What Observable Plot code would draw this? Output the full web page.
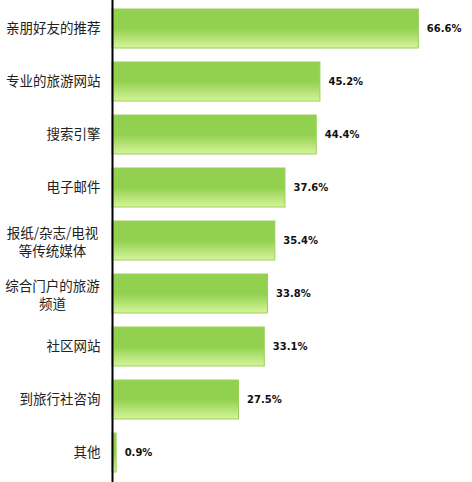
<!DOCTYPE html>
<html><head><meta charset="utf-8">
<script src="https://cdn.jsdelivr.net/npm/d3@7"></script>
<script src="https://cdn.jsdelivr.net/npm/@observablehq/plot@0.6"></script>
<style>body{margin:0;background:#fff}</style>
</head><body>
<div id="chart"></div>
<script>
const categories = ["亲朋好友的推荐","专业的旅游网站","搜索引擎","电子邮件","报纸/杂志/电视\n等传统媒体","综合门户的旅游\n频道","社区网站","到旅行社咨询","其他"];
const values = [66.6, 45.2, 44.4, 37.6, 35.4, 33.8, 33.1, 27.5, 0.9];
const valueLabels = ["66.6%","45.2%","44.4%","37.6%","35.4%","33.8%","33.1%","27.5%","0.9%"];

const data = categories.map((c,i)=>({cat:c, v:values[i], lab:valueLabels[i], multi:c.includes("\n")}));

const chart = Plot.plot({
  width: 472, height: 482,
  marginLeft: 112, marginRight: 38, marginTop: 0, marginBottom: 0,
  x: {domain:[0,70], axis:null},
  y: {domain: categories, paddingInner: 0.26, paddingOuter: 0.15, axis:null},
  marks: [
    Plot.barX(data, {x:"v", y:"cat", fill:"url(#bargrad)", stroke:"#9ccf5a", strokeWidth:1}),
    Plot.ruleX([0], {stroke:"#000", strokeWidth:2}),
    Plot.text(data.filter(d=>!d.multi), {x:0, y:"cat", text:"cat", textAnchor:"end", dx:-12, fontSize:13.5, fill:"#222", fontFamily:"'Noto Sans CJK SC', sans-serif"}),
    Plot.text(data.filter(d=>d.multi), {x:0, y:"cat", text:"cat", textAnchor:"middle", dx:-60, fontSize:13.5, lineHeight:1.35, fill:"#222", fontFamily:"'Noto Sans CJK SC', sans-serif"}),
    Plot.text(data, {x:"v", y:"cat", text:"lab", textAnchor:"start", dx:8, fontSize:10, fontWeight:"bold", fill:"#111", fontFamily:"'DejaVu Sans', Verdana, sans-serif"})
  ]
});
const ns = "http://www.w3.org/2000/svg";
const defs = document.createElementNS(ns, "defs");
defs.innerHTML = `<linearGradient id="bargrad" x1="0" y1="0" x2="0" y2="1">
<stop offset="0" stop-color="#92d050"/>
<stop offset="0.5" stop-color="#92d050"/>
<stop offset="1" stop-color="#d6f59a"/>
</linearGradient>`;
chart.insertBefore(defs, chart.firstChild);
document.getElementById("chart").appendChild(chart);
</script>
</body></html>
